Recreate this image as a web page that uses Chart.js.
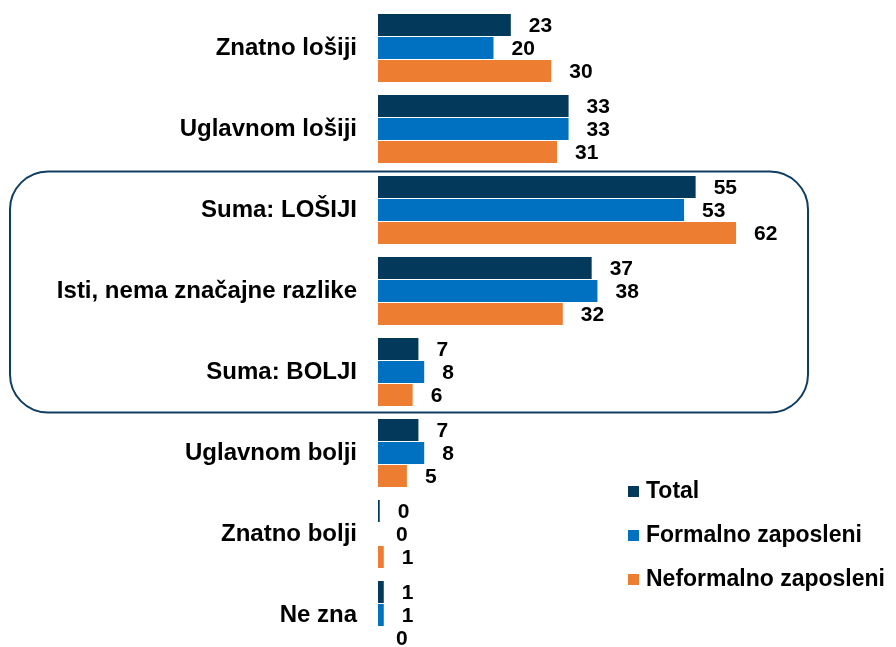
<!DOCTYPE html>
<html>
<head>
<meta charset="utf-8">
<script src="https://cdn.jsdelivr.net/npm/chart.js@4/dist/chart.umd.min.js"></script>
<style>
  html, body { margin: 0; padding: 0; background: #fff; overflow: hidden; }
  .chart-box { position: relative; width: 896px; height: 647px; overflow: hidden; }
  canvas { display: block; }
</style>
</head>
<body>
<div class="chart-box"><canvas id="c" width="896" height="660"></canvas></div>
<script>
const categories = [
  'Znatno lošiji',
  'Uglavnom lošiji',
  'Suma: LOŠIJI',
  'Isti, nema značajne razlike',
  'Suma: BOLJI',
  'Uglavnom bolji',
  'Znatno bolji',
  'Ne zna'
]
const seriesNames = ['Total', 'Formalno zaposleni', 'Neformalno zaposleni']
const total = [23, 33, 55, 37, 7, 7, 0.3, 1]
const formalno = [20, 33, 53, 38, 8, 8, 0, 1]
const neformalno = [30, 31, 62, 32, 6, 5, 1, 0]
const colors = ['#033a5c', '#0070c0', '#ed7d31']

const FONT = '"Liberation Sans", Arial, sans-serif'

// Vrijednosti desno od stupaca
const valueLabels = {
  id: 'valueLabels',
  afterDatasetsDraw(chart) {
    const { ctx } = chart
    ctx.save()
    ctx.font = `bold 21px ${FONT}`
    ctx.fillStyle = '#000'
    ctx.textBaseline = 'middle'
    ctx.textAlign = 'left'
    chart.data.datasets.forEach((ds, i) => {
      chart.getDatasetMeta(i).data.forEach((bar, j) => {
        ctx.fillText(String(Math.round(ds.data[j])), bar.x + 18, bar.y + 1)
      })
    })
    ctx.restore()
  }
}

// Zaobljeni okvir oko sumarnih kategorija + legenda dolje desno
const extras = {
  id: 'extras',
  afterDraw(chart) {
    const { ctx } = chart
    const y = chart.scales.y
    const band = y.getPixelForValue(1) - y.getPixelForValue(0)
    const top = y.getPixelForValue(2) - band / 2 + 2
    const bottom = y.getPixelForValue(4) + band / 2
    ctx.save()
    ctx.strokeStyle = '#0f3d61'
    ctx.lineWidth = 2
    ctx.beginPath()
    ctx.roundRect(10, top, 798, bottom - top, 38)
    ctx.stroke()

    ctx.font = `bold 23px ${FONT}`
    ctx.textBaseline = 'middle'
    ctx.textAlign = 'left'
    chart.data.datasets.forEach((ds, i) => {
      const cy = 491 + i * 44
      ctx.fillStyle = ds.backgroundColor
      ctx.fillRect(628, cy - 5, 11, 11)
      ctx.fillStyle = '#000'
      ctx.fillText(ds.label, 646, cy + 1)
    })
    ctx.restore()
  }
}

new Chart(document.getElementById('c'), {
  type: 'bar',
  data: {
    labels: categories,
    datasets: [total, formalno, neformalno].map((d, i) => ({
      label: seriesNames[i],
      data: d,
      backgroundColor: colors[i],
      borderWidth: 0,
      categoryPercentage: 0.852,
      barPercentage: 0.957
    }))
  },
  options: {
    indexAxis: 'y',
    responsive: false,
    animation: false,
    layout: { padding: { top: 7.5, bottom: 4.5, left: 0, right: 56 } },
    scales: {
      x: { display: false, min: 0, max: 80 },
      y: {
        afterFit: (scale) => {
          scale.width = 378
          scale.paddingTop = 0
          scale.paddingBottom = 0
        },
        grid: { display: false, drawTicks: false },
        border: { display: false },
        ticks: {
          padding: 21,
          color: '#000',
          font: { family: FONT, size: 24, weight: 'bold' }
        }
      }
    },
    plugins: {
      legend: { display: false },
      tooltip: { enabled: false }
    }
  },
  plugins: [valueLabels, extras]
})
</script>
</body>
</html>
